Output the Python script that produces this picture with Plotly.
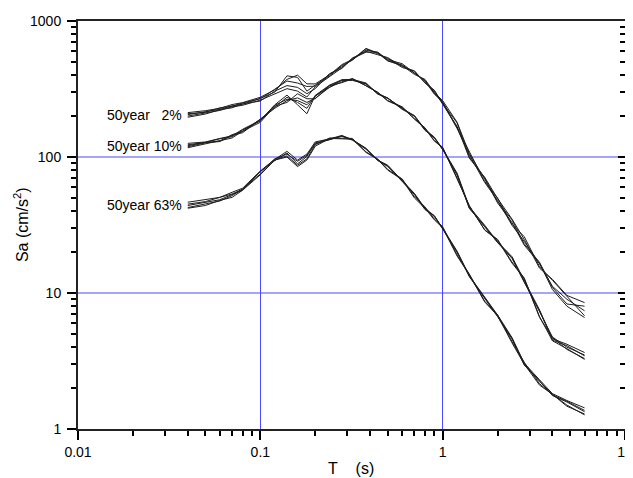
import numpy as np
import plotly.graph_objects as go

# Periods (s)
periods = [0.04, 0.05, 0.06, 0.07, 0.08, 0.1, 0.12, 0.14, 0.16, 0.18, 0.2, 0.24,
           0.28, 0.32, 0.38, 0.44, 0.5, 0.6, 0.7, 0.8, 0.9, 1.0, 1.2, 1.4, 1.7,
           2.0, 2.4, 2.8, 3.4, 4.0, 4.8, 6.0]

# 50 year 2% spectra (cm/s^2)
sa_2_a = [205, 214, 224, 238, 244, 270, 300, 395, 385, 305, 338, 395, 470, 515, 625, 575, 530, 455, 430, 352, 310, 248, 178, 100, 70, 47, 34.5, 23, 16.8, 11, 8.3, 8.0]
sa_2_b = [196, 207, 223, 230, 246, 258, 305, 335, 325, 292, 318, 410, 448, 530, 590, 590, 520, 485, 415, 362, 290, 255, 164, 110, 66, 50, 32, 26, 15.6, 12.4, 9.4, 6.8]
sa_2_c = [212, 219, 228, 243, 251, 275, 312, 372, 400, 345, 345, 402, 478, 522, 628, 582, 508, 470, 405, 372, 298, 260, 180, 106, 69, 46, 33, 22.5, 16.5, 10.6, 8.0, 6.6]
sa_2_d = [200, 211, 220, 234, 240, 262, 292, 318, 305, 276, 328, 390, 452, 535, 598, 565, 538, 463, 428, 350, 306, 244, 168, 98, 71, 49.5, 35, 24.8, 15.2, 12.6, 9.6, 8.5]
sa_2_e = [208, 213, 230, 236, 250, 268, 315, 362, 350, 330, 332, 408, 460, 520, 610, 588, 512, 475, 410, 366, 295, 250, 162, 104, 65, 48, 31.5, 24, 16.4, 11.2, 9.0, 7.4]

# 50 year 10% spectra
sa_10_a = [121, 128, 131, 146, 154, 190, 232, 275, 252, 228, 282, 325, 368, 368, 346, 290, 270, 224, 200, 157, 139, 113, 75, 42, 31, 23.5, 18, 12, 7.4, 4.5, 4.1, 3.45]
sa_10_b = [117, 125, 132, 138, 155, 180, 236, 252, 292, 268, 268, 334, 352, 375, 334, 298, 258, 232, 190, 162, 131, 117, 69, 44, 29, 24.5, 16.6, 12.8, 6.6, 4.7, 3.85, 3.3]
sa_10_c = [126, 129, 137, 143, 160, 186, 242, 285, 242, 208, 284, 338, 370, 372, 350, 292, 272, 226, 202, 160, 140, 115, 76, 43, 31.5, 23.8, 18.5, 12.3, 7.5, 4.6, 4.2, 3.65]
sa_10_d = [119, 127, 130, 144, 151, 188, 228, 260, 272, 252, 270, 326, 357, 378, 336, 300, 260, 234, 191, 164, 132, 118, 70, 43.5, 29.2, 24.8, 16.9, 12.9, 6.7, 4.45, 3.9, 3.25]
sa_10_e = [123, 128, 136, 141, 158, 184, 240, 266, 260, 242, 279, 336, 366, 366, 344, 294, 270, 228, 199, 158, 138, 114, 73.5, 42, 30.8, 23.6, 18.2, 12.2, 7.2, 4.75, 4.0, 3.5]

# 50 year 63% spectra
sa_63_a = [44, 46.5, 48.5, 53, 57, 78, 94, 107, 89, 101, 127, 134, 142, 133, 114, 94, 86, 66, 53, 41, 37, 29.5, 20, 13.2, 9.2, 6.7, 4.6, 2.95, 2.25, 1.76, 1.58, 1.34]
sa_63_b = [42, 44, 48, 50.5, 57, 74, 95, 100, 85, 95, 120, 137, 136, 135, 108, 96, 80, 68, 50, 42, 34.5, 30.2, 18.7, 13.6, 8.6, 6.8, 4.3, 3.0, 2.1, 1.8, 1.47, 1.29]
sa_63_c = [46.5, 48.5, 50.5, 55, 59, 79, 96, 110, 95, 105, 129, 136, 144, 134, 116, 95, 87, 67, 54, 42, 37, 30, 20.3, 13.4, 9.4, 6.9, 4.7, 3.05, 2.3, 1.82, 1.62, 1.43]
sa_63_d = [42.5, 45.5, 47.5, 52, 58, 75, 95, 102, 87, 97, 123, 138, 137, 137, 109, 97, 81, 69, 51, 43, 35, 30.8, 19, 13.8, 8.7, 6.9, 4.4, 3.1, 2.15, 1.8, 1.5, 1.27]
sa_63_e = [45, 47, 50.5, 53.5, 58, 78, 97, 105, 93, 103, 125, 135, 143, 134, 115, 95, 85, 67, 53.5, 41.5, 36.5, 29.8, 19.9, 13.3, 9.2, 6.8, 4.65, 3.0, 2.25, 1.78, 1.6, 1.37]

group_labels = ["50year\u00a0\u00a0\u00a02%", "50year 10%", "50year 63%"]
group_lines = [
    [sa_2_a, sa_2_b, sa_2_c, sa_2_d, sa_2_e],
    [sa_10_a, sa_10_b, sa_10_c, sa_10_d, sa_10_e],
    [sa_63_a, sa_63_b, sa_63_c, sa_63_d, sa_63_e],
]

x_major = [0.01, 0.1, 1, 10]
x_major_text = ["0.01", "0.1", "1", "10"]
y_major = [1, 10, 100, 1000]
y_major_text = ["1", "10", "100", "1000"]
y_grid = [10, 100]
minor_vals_x = [m * d for d in (0.01, 0.1, 1) for m in range(2, 10)]
minor_vals_y = [m * d for d in (1, 10, 100) for m in range(2, 10)]

grid_col = "#4b4bff"

fig = go.Figure()
for lines in group_lines:
    for ln in lines:
        fig.add_trace(go.Scatter(x=periods, y=ln, mode="lines",
                                 line=dict(color="#1e1e1e", width=1),
                                 showlegend=False, hoverinfo="skip"))

# dummy trace for the right-hand axis with inward ticks
fig.add_trace(go.Scatter(x=[None], y=[None], yaxis="y2", showlegend=False, hoverinfo="skip"))

# horizontal blue grid lines, positioned in paper units from the log range [0, 3]
for gv in y_grid:
    fig.add_shape(type="line", xref="paper", yref="paper", x0=0, x1=1,
                  y0=np.log10(gv) / 3, y1=np.log10(gv) / 3,
                  line=dict(color=grid_col, width=1), layer="below")

annotations = []
for label, lines in zip(group_labels, group_lines):
    annotations.append(dict(text=label, x=0.1935, xref="paper", y=np.log10(lines[0][0]), yref="y",
                            xanchor="right", yanchor="middle", showarrow=False,
                            font=dict(size=14, color="black")))
annotations.append(dict(text="Sa (cm/s<sup>2</sup>)", x=-0.104, xref="paper", y=0.5, yref="paper",
                        textangle=-90, showarrow=False, xanchor="center", yanchor="middle",
                        font=dict(size=16, color="black")))
annotations.append(dict(text="T\u00a0\u00a0\u00a0\u00a0(s)", x=0.499, xref="paper", y=-0.0956, yref="paper",
                        showarrow=False, xanchor="center", yanchor="middle",
                        font=dict(size=16, color="black")))

common = dict(tickmode="array", ticks="outside", ticklen=9, tickwidth=1.5, tickcolor="black",
              gridwidth=1, showline=True, linecolor="#222", linewidth=2, mirror=True,
              zeroline=False, tickfont=dict(size=14), automargin=False,
              ticklabeloverflow="allow")

# page body has an 8px margin, so the figure is offset by 8px
fig.update_layout(
    width=625, height=470,
    margin=dict(l=70, r=8, t=13, b=49),
    paper_bgcolor="white", plot_bgcolor="white",
    font=dict(family="Arial, Liberation Sans, sans-serif", size=14, color="black"),
    showlegend=False,
    annotations=annotations,
    xaxis=dict(type="log", range=[-2, 1], tickvals=x_major, ticktext=x_major_text,
               showgrid=True, gridcolor=grid_col,
               minor=dict(tickmode="array", tickvals=minor_vals_x, ticks="outside", ticklen=5,
                          tickwidth=1.5, tickcolor="black", showgrid=False),
               **common),
    yaxis=dict(type="log", range=[0, 3], tickvals=y_major, ticktext=y_major_text,
               showgrid=False, ticklabelstandoff=3,
               minor=dict(tickmode="array", tickvals=minor_vals_y, ticks="outside", ticklen=5,
                          tickwidth=1.5, tickcolor="black", showgrid=False),
               **common),
    yaxis2=dict(type="log", range=[0, 3], overlaying="y", side="right", tickmode="array",
                tickvals=y_major, ticks="inside", ticklen=7, tickwidth=1.5, tickcolor="black",
                minor=dict(tickmode="array", tickvals=minor_vals_y, ticks="inside", ticklen=5,
                           tickwidth=1.5, tickcolor="black", showgrid=False),
                showticklabels=False, showgrid=False, showline=True,
                linecolor="#222", linewidth=2, zeroline=False, automargin=False),
)

fig.write_html("out.html")
